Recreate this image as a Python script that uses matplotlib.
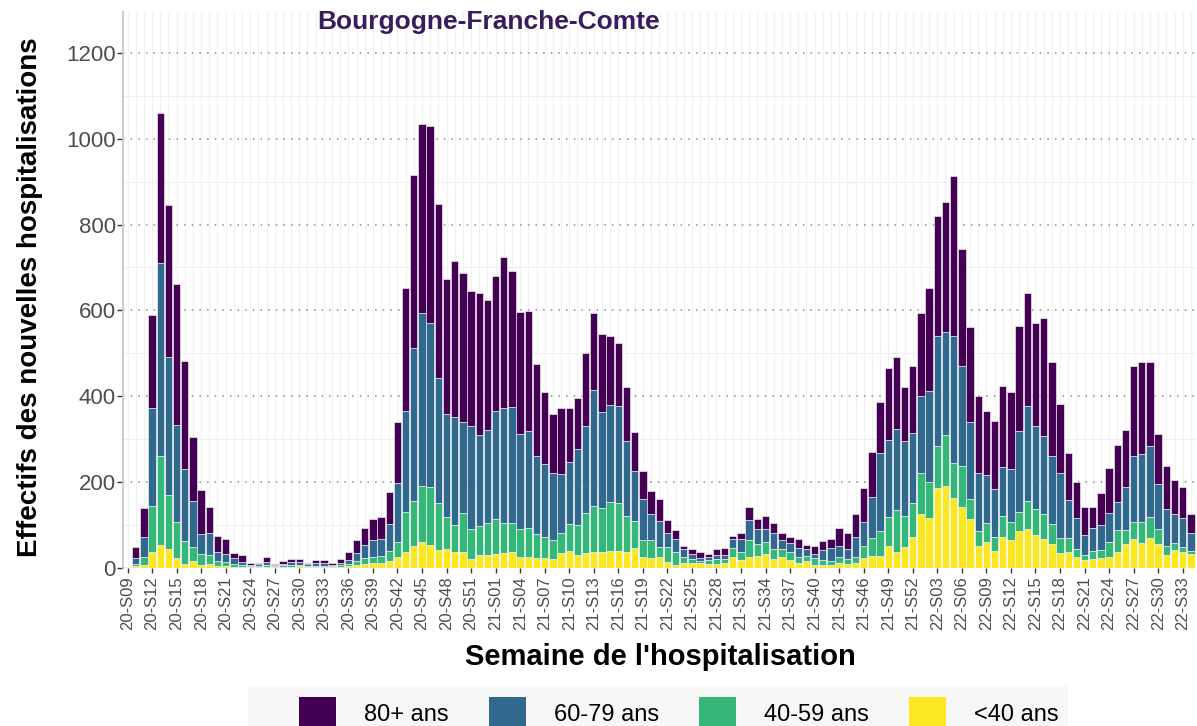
import matplotlib
matplotlib.use("Agg")
import matplotlib.pyplot as plt
from matplotlib.patches import Patch, Rectangle
import numpy as np

plt.rcParams['font.family'] = ['Liberation Sans', 'DejaVu Sans']

# ---- categories (ISO weeks) ----
weeks = ([f"20-S{w:02d}" for w in range(9, 54)]
         + [f"21-S{w:02d}" for w in range(1, 53)]
         + [f"22-S{w:02d}" for w in range(1, 35)])

# ---- series values (weekly new hospitalisations by age group) ----
under40 = [0, 4, 6, 36, 53, 42, 22, 7, 16, 6,
           9, 4, 3, 2, 1, 1, 1, 2, 1, 2,
           2, 3, 1, 1, 2, 1, 2, 3, 5, 9,
           11, 10, 15, 24, 37, 49, 60, 53, 41, 42,
           35, 37, 19, 28, 29,
           31, 33, 35, 24, 25, 21, 21, 20, 33, 39,
           29, 33, 35, 35, 39, 39, 35, 45, 25, 22,
           24, 12, 6, 10, 10, 10, 8, 8, 11, 25,
           18, 25, 27, 31, 19, 24, 18, 11, 14, 6,
           6, 6, 10, 8, 10, 21, 27, 27, 51, 37,
           47, 72,
           124, 116, 185, 191, 161, 142, 112, 49, 60, 38,
           70, 63, 84, 89, 76, 66, 55, 33, 37, 24,
           17, 19, 23, 25, 37, 54, 66, 58, 68, 54,
           29, 41, 35, 31]

a40_59 = [0, 5, 18, 107, 206, 128, 84, 55, 32, 25,
          19, 12, 10, 7, 4, 2, 2, 4, 2, 3,
          3, 3, 2, 3, 2, 2, 3, 5, 10, 12,
          14, 16, 23, 36, 93, 105, 130, 134, 109, 75,
          64, 89, 70, 69, 74,
          81, 71, 69, 65, 68, 57, 51, 44, 48, 63,
          70, 93, 108, 103, 113, 111, 84, 64, 39, 41,
          23, 35, 29, 14, 9, 5, 10, 11, 8, 20,
          19, 39, 27, 29, 23, 18, 17, 14, 13, 15,
          12, 8, 14, 11, 15, 28, 41, 57, 66, 97,
          73, 78,
          96, 84, 99, 117, 82, 95, 47, 37, 43, 32,
          51, 42, 46, 65, 60, 58, 46, 35, 31, 18,
          11, 20, 18, 35, 50, 33, 41, 49, 49, 35,
          20, 17, 12, 8]

a60_79 = [1, 14, 46, 228, 452, 320, 226, 168, 108, 46,
          53, 21, 19, 14, 7, 3, 4, 6, 2, 4,
          7, 6, 4, 6, 6, 3, 5, 9, 19, 31,
          40, 40, 63, 138, 236, 357, 403, 384, 293, 241,
          253, 214, 242, 211, 218,
          253, 269, 271, 223, 225, 182, 169, 156, 137, 143,
          177, 204, 271, 224, 226, 227, 175, 116, 95, 62,
          61, 33, 31, 18, 12, 8, 7, 10, 9, 22,
          29, 47, 35, 30, 38, 22, 23, 21, 15, 10,
          23, 31, 27, 23, 45, 58, 97, 184, 181, 189,
          174, 163,
          180, 212, 255, 241, 297, 233, 181, 135, 113, 112,
          113, 124, 189, 223, 193, 183, 160, 153, 90, 73,
          48, 52, 58, 66, 65, 100, 153, 158, 167, 106,
          88, 67, 68, 42]

a80p = [1, 24, 68, 218, 350, 356, 330, 251, 149, 103,
        60, 37, 35, 10, 18, 5, 3, 12, 3, 5,
        7, 7, 4, 7, 7, 4, 10, 20, 31, 39,
        47, 51, 76, 141, 285, 405, 442, 460, 405, 315,
        363, 348, 313, 332, 302,
        316, 351, 317, 283, 281, 214, 169, 138, 155, 128,
        119, 170, 179, 182, 162, 146, 126, 90, 67, 53,
        51, 30, 22, 9, 11, 14, 6, 13, 17, 7,
        15, 29, 23, 29, 23, 16, 14, 20, 11, 18,
        21, 21, 40, 38, 54, 78, 104, 118, 167, 167,
        128, 158,
        193, 241, 282, 303, 374, 273, 222, 179, 149, 160,
        190, 180, 245, 263, 241, 276, 218, 160, 110, 85,
        66, 49, 74, 105, 134, 134, 209, 215, 196, 117,
        100, 78, 72, 44]

groups = ["<40 ans", "40-59 ans", "60-79 ans", "80+ ans"]
colors = ["#FDE725", "#35B779", "#31688E", "#440154"]
yticks = [0, 200, 400, 600, 800, 1000, 1200]

W, H = 1197, 726
fig = plt.figure(figsize=(W / 100, H / 100), dpi=100)
left_px, right_px, top_px, bot_px = 122.6, 1195.8, 12, 567.5
ax = fig.add_axes([left_px / W, (H - bot_px) / H,
                   (right_px - left_px) / W, (bot_px - top_px) / H])

n = len(weeks)
x = np.arange(n)
bottom = np.zeros(n)
handles = {}
for vals, col, lab in zip([under40, a40_59, a60_79, a80p], colors, groups):
    v = np.array(vals, dtype=float)
    ax.bar(x, v, bottom=bottom, width=0.9, color=col, edgecolor="white",
           linewidth=0.4, zorder=3)
    handles[lab] = Patch(facecolor=col, edgecolor="none")
    bottom += v

ax.set_xlim(-0.6, n - 1 + 0.6)
ax.set_ylim(0, 1296)

# grid
for xv in x:
    ax.axvline(xv, color="#f1f1f1", lw=0.8, zorder=0)
for yv in range(100, 1300, 200):
    ax.axhline(yv, color="#eeeeee", lw=0.8, zorder=0)
for yv in yticks:
    ax.axhline(yv, color="#8c8c8c", lw=1.1, ls=(0, (1, 4)), zorder=1)

for s in ["top", "right", "bottom"]:
    ax.spines[s].set_visible(False)
ax.spines["left"].set_color("#c8c8c8")
ax.spines["left"].set_linewidth(1.3)

ax.set_xticks(x[::3])
ax.set_xticklabels(weeks[::3], rotation=90, fontsize=12, color="#4d4d4d")
ax.set_yticks(yticks)
ax.set_yticklabels([str(v) for v in yticks], fontsize=16, color="#4d4d4d")
ax.tick_params(axis="x", length=3.5, width=1, color="#333333", pad=3)
ax.tick_params(axis="y", length=4, width=1, color="#333333", pad=1)

fig.text(489 / W, 1 - 22 / H, "Bourgogne-Franche-Comte", ha="center", va="center",
         fontsize=19, fontweight="bold", color="#3a1c5c")
fig.text(660 / W, 1 - 657 / H, "Semaine de l'hospitalisation", ha="center",
         va="center", fontsize=21, fontweight="bold", color="black")
fig.text(30 / W, 1 - 297 / H, "Effectifs des nouvelles hospitalisations",
         ha="center", va="center", rotation=90, fontsize=20, fontweight="bold",
         color="black")

# legend
fig.patches.append(Rectangle((248 / W, 0), (1068 - 248) / W, (726 - 686) / H,
                             transform=fig.transFigure, facecolor="#f7f7f7",
                             edgecolor="none", zorder=0))
order = ["80+ ans", "60-79 ans", "40-59 ans", "<40 ans"]
fig.legend([handles[k] for k in order], order, loc="center",
           bbox_to_anchor=(679 / W, 1 - 713 / H), ncol=4, frameon=False,
           fontsize=17, handlelength=1.55, handleheight=1.7,
           handletextpad=1.2, columnspacing=1.7, borderpad=0)

fig.savefig("out.png", dpi=100)
